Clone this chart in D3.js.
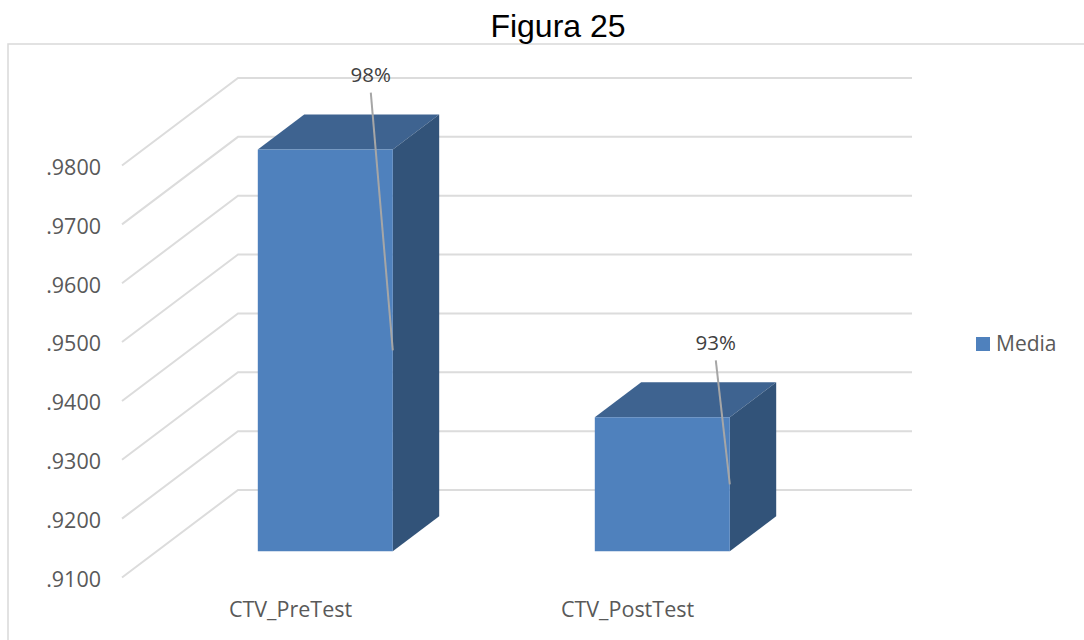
<!DOCTYPE html>
<html>
<head>
<meta charset="utf-8">
<style>
  html, body { margin: 0; padding: 0; background: #fff; }
  svg { display: block; }
  text { font-family: "Open Sans", sans-serif; }
</style>
<script src="https://cdn.jsdelivr.net/npm/d3@7"></script>
</head>
<body>
<svg id="chart" width="1084" height="640"></svg>
<script>
var categories = ["CTV_PreTest", "CTV_PostTest"];
var medias = [0.97825, 0.93275];
var dataLabels = ["98%", "93%"];
var tickValues = [0.91, 0.92, 0.93, 0.94, 0.95, 0.96, 0.97, 0.98];
var seriesName = "Media";

var svg = d3.select("#chart");

// the floor goes back 116px across and 87.5px up
var depthX = 116, depthY = 87.5;
var barFront = 0.3, barBack = 0.7, barWidth = 135;

var x = d3.scaleBand().domain(categories).range([122, 796]);
var y = d3.scaleLinear().domain([0.91, 0.98]).range([577.5, 165.5]);

//Helper: project a point of the box (px from category center, value, depth) to the page
function project(cat, offset, value, depth) {
  return [
    x(cat) + x.bandwidth() / 2 + offset + depth * depthX,
    y(value) - depth * depthY
  ];
}

function poly(points) {
  return "M" + points.map(function(p) { return p[0] + "," + p[1]; }).join("L") + "Z";
}

// frame, runs off the right and the bottom of the picture
svg.append("path")
  .attr("d", "M8,640V44H1084")
  .attr("fill", "none")
  .attr("stroke", "#d9d9d9")
  .attr("stroke-width", 1.5);

svg.append("text")
  .attr("x", 558)
  .attr("y", 37)
  .attr("text-anchor", "middle")
  .style("font-family", "'Liberation Sans', sans-serif")
  .style("font-size", "32px")
  .attr("fill", "#000")
  .text("Figura 25");

// gridlines: side wall then back wall
var grid = svg.append("g").attr("id", "grid");
grid.selectAll("path")
  .data(tickValues)
  .enter()
  .append("path")
  .attr("d", function(d) {
    return "M122," + y(d) + "L" + (122 + depthX) + "," + (y(d) - depthY) + "H912";
  })
  .attr("fill", "none")
  .attr("stroke", "#dcdcdc")
  .attr("stroke-width", 2);

// axes
var yAxis = svg.append("g")
  .attr("transform", "translate(104,2)")
  .call(d3.axisLeft(y).tickValues(tickValues).tickSize(0).tickFormat(function(d) {
    return d3.format(".4f")(d).slice(1);
  }));
yAxis.select(".domain").remove();
yAxis.selectAll("text")
  .style("font-family", "'Open Sans', sans-serif")
  .style("font-size", "21.5px")
  .attr("fill", "#595959");

var xAxis = svg.append("g")
  .attr("transform", "translate(0,599)")
  .call(d3.axisBottom(x).tickSize(0));
xAxis.select(".domain").remove();
xAxis.selectAll("text")
  .style("font-family", "'Open Sans', sans-serif")
  .style("font-size", "21.5px")
  .attr("fill", "#595959");

// bars
var rows = categories.map(function(c, i) {
  return { cat: c, value: medias[i], label: dataLabels[i] };
});
var half = barWidth / 2, base = 0.91;

var bar = svg.selectAll(".bar")
  .data(rows)
  .enter()
  .append("g")
  .attr("class", "bar");

bar.append("path")
  .attr("fill", "#3e6390")
  .attr("d", function(d) {
    return poly([
      project(d.cat, -half, d.value, barFront),
      project(d.cat, half, d.value, barFront),
      project(d.cat, half, d.value, barBack),
      project(d.cat, -half, d.value, barBack)
    ]);
  });

bar.append("path")
  .attr("fill", "#325379")
  .attr("d", function(d) {
    return poly([
      project(d.cat, half, d.value, barFront),
      project(d.cat, half, d.value, barBack),
      project(d.cat, half, base, barBack),
      project(d.cat, half, base, barFront)
    ]);
  });

bar.append("path")
  .attr("fill", "#4f81bd")
  .attr("d", function(d) {
    return poly([
      project(d.cat, -half, d.value, barFront),
      project(d.cat, half, d.value, barFront),
      project(d.cat, half, base, barFront),
      project(d.cat, -half, base, barFront)
    ]);
  });

// leader lines go from under the label to the middle of the front right edge
var labelShift = [-22, -14];

bar.append("line")
  .attr("stroke", "#a6a6a6")
  .attr("stroke-width", 2)
  .each(function(d, i) {
    var top = project(d.cat, half, d.value, barFront);
    var end = project(d.cat, half, (d.value + base) / 2, barFront);
    d3.select(this)
      .attr("x1", top[0] + labelShift[i])
      .attr("y1", top[1] - 57)
      .attr("x2", end[0])
      .attr("y2", end[1]);
  });

bar.append("text")
  .attr("text-anchor", "middle")
  .style("font-size", "20.5px")
  .attr("fill", "#404040")
  .attr("x", function(d, i) { return project(d.cat, half, d.value, barFront)[0] + labelShift[i]; })
  .attr("y", function(d) { return project(d.cat, half, d.value, barFront)[1] - 67.5; })
  .text(function(d) { return d.label; });

// legend
svg.append("rect")
  .attr("x", 976)
  .attr("y", 337)
  .attr("width", 14)
  .attr("height", 14)
  .attr("fill", "#4f81bd");

svg.append("text")
  .attr("x", 996)
  .attr("y", 351)
  .style("font-size", "21px")
  .attr("fill", "#595959")
  .text(seriesName);
</script>
</body>
</html>
